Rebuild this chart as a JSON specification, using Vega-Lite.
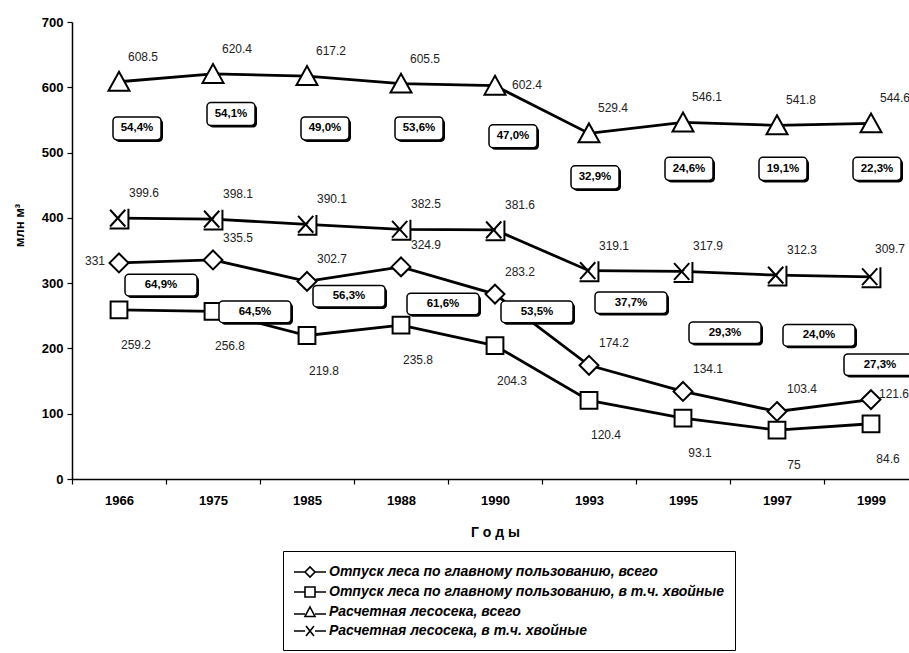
{
  "$schema": "https://vega.github.io/schema/vega-lite/v6.json",
  "width": 837,
  "height": 457,
  "autosize": {"type": "none"},
  "padding": {"left": 72, "top": 22, "right": 0, "bottom": 174},
  "background": "white",
  "config": {
    "font": "Liberation Sans",
    "view": {"stroke": null},
    "axis": {"grid": false, "domainColor": "black", "domainWidth": 1.5, "tickColor": "black", "tickWidth": 1.2, "labelColor": "black", "titleColor": "black", "labelFont": "Liberation Sans", "titleFont": "Liberation Sans"},
    "text": {"font": "Liberation Sans"}
  },
  "datasets": {
    "series": [
      {"year": 1966, "series": "Отпуск леса по главному пользованию, всего", "v": 331},
      {"year": 1975, "series": "Отпуск леса по главному пользованию, всего", "v": 335.5},
      {"year": 1985, "series": "Отпуск леса по главному пользованию, всего", "v": 302.7},
      {"year": 1988, "series": "Отпуск леса по главному пользованию, всего", "v": 324.9},
      {"year": 1990, "series": "Отпуск леса по главному пользованию, всего", "v": 283.2},
      {"year": 1993, "series": "Отпуск леса по главному пользованию, всего", "v": 174.2},
      {"year": 1995, "series": "Отпуск леса по главному пользованию, всего", "v": 134.1},
      {"year": 1997, "series": "Отпуск леса по главному пользованию, всего", "v": 103.4},
      {"year": 1999, "series": "Отпуск леса по главному пользованию, всего", "v": 121.6},
      {"year": 1966, "series": "Отпуск леса по главному пользованию, в т.ч. хвойные", "v": 259.2},
      {"year": 1975, "series": "Отпуск леса по главному пользованию, в т.ч. хвойные", "v": 256.8},
      {"year": 1985, "series": "Отпуск леса по главному пользованию, в т.ч. хвойные", "v": 219.8},
      {"year": 1988, "series": "Отпуск леса по главному пользованию, в т.ч. хвойные", "v": 235.8},
      {"year": 1990, "series": "Отпуск леса по главному пользованию, в т.ч. хвойные", "v": 204.3},
      {"year": 1993, "series": "Отпуск леса по главному пользованию, в т.ч. хвойные", "v": 120.4},
      {"year": 1995, "series": "Отпуск леса по главному пользованию, в т.ч. хвойные", "v": 93.1},
      {"year": 1997, "series": "Отпуск леса по главному пользованию, в т.ч. хвойные", "v": 75},
      {"year": 1999, "series": "Отпуск леса по главному пользованию, в т.ч. хвойные", "v": 84.6},
      {"year": 1966, "series": "Расчетная лесосека, всего", "v": 608.5},
      {"year": 1975, "series": "Расчетная лесосека, всего", "v": 620.4},
      {"year": 1985, "series": "Расчетная лесосека, всего", "v": 617.2},
      {"year": 1988, "series": "Расчетная лесосека, всего", "v": 605.5},
      {"year": 1990, "series": "Расчетная лесосека, всего", "v": 602.4},
      {"year": 1993, "series": "Расчетная лесосека, всего", "v": 529.4},
      {"year": 1995, "series": "Расчетная лесосека, всего", "v": 546.1},
      {"year": 1997, "series": "Расчетная лесосека, всего", "v": 541.8},
      {"year": 1999, "series": "Расчетная лесосека, всего", "v": 544.6},
      {"year": 1966, "series": "Расчетная лесосека, в т.ч. хвойные", "v": 399.6},
      {"year": 1975, "series": "Расчетная лесосека, в т.ч. хвойные", "v": 398.1},
      {"year": 1985, "series": "Расчетная лесосека, в т.ч. хвойные", "v": 390.1},
      {"year": 1988, "series": "Расчетная лесосека, в т.ч. хвойные", "v": 382.5},
      {"year": 1990, "series": "Расчетная лесосека, в т.ч. хвойные", "v": 381.6},
      {"year": 1993, "series": "Расчетная лесосека, в т.ч. хвойные", "v": 319.1},
      {"year": 1995, "series": "Расчетная лесосека, в т.ч. хвойные", "v": 317.9},
      {"year": 1997, "series": "Расчетная лесосека, в т.ч. хвойные", "v": 312.3},
      {"year": 1999, "series": "Расчетная лесосека, в т.ч. хвойные", "v": 309.7}
    ],
    "boxes": [
      {"year": 1966, "kind": "top", "label": "54,4%", "y": 537},
      {"year": 1975, "kind": "top", "label": "54,1%", "y": 559},
      {"year": 1985, "kind": "top", "label": "49,0%", "y": 537},
      {"year": 1988, "kind": "top", "label": "53,6%", "y": 537},
      {"year": 1990, "kind": "top", "label": "47,0%", "y": 525},
      {"year": 1993, "kind": "top", "label": "32,9%", "y": 462},
      {"year": 1995, "kind": "top", "label": "24,6%", "y": 475},
      {"year": 1997, "kind": "top", "label": "19,1%", "y": 475},
      {"year": 1999, "kind": "top", "label": "22,3%", "y": 475},
      {"year": 1966, "kind": "mid", "label": "64,9%", "y": 297},
      {"year": 1975, "kind": "mid", "label": "64,5%", "y": 256},
      {"year": 1985, "kind": "mid", "label": "56,3%", "y": 280},
      {"year": 1988, "kind": "mid", "label": "61,6%", "y": 268},
      {"year": 1990, "kind": "mid", "label": "53,5%", "y": 256},
      {"year": 1993, "kind": "mid", "label": "37,7%", "y": 270},
      {"year": 1995, "kind": "mid", "label": "29,3%", "y": 224},
      {"year": 1997, "kind": "mid", "label": "24,0%", "y": 220},
      {"year": 1999, "kind": "mid", "label": "27,3%", "y": 175}
    ]
  },
  "encoding": {
    "x": {
      "field": "year", "type": "ordinal",
      "scale": {"type": "band", "range": [0, 846], "paddingInner": 0, "paddingOuter": 0},
      "axis": {"title": "Г  о  д  ы", "labelAngle": 0, "labelFontWeight": "bold", "labelFontSize": 13, "labelPadding": 10, "tickBand": "extent", "tickSize": 5, "titleFontWeight": "bold", "titleFontSize": 14, "titlePadding": 18}
    }
  },
  "layer": [
    {
      "mark": {"type": "rule", "color": "black", "strokeWidth": 1.5},
      "encoding": {"y": {"datum": 700, "type": "quantitative", "scale": {"domain": [0, 700], "nice": false}}, "x": null}
    },
    {
      "data": {"name": "series"},
      "mark": {"type": "line", "color": "black", "strokeWidth": 2.8},
      "encoding": {
        "y": {"field": "v", "type": "quantitative", "scale": {"domain": [0, 700], "nice": false},
          "axis": {"title": "млн м³", "values": [0, 100, 200, 300, 400, 500, 600, 700], "labelFontWeight": "bold", "labelFontSize": 13, "labelPadding": 4, "tickSize": 5, "titleFontWeight": "bold", "titleFontSize": 13, "titleX": -46, "titleY": 203}},
        "detail": {"field": "series"}
      }
    },
    {
      "data": {"name": "series"},
      "mark": {"type": "point", "filled": true, "fill": "white", "stroke": "black", "strokeWidth": 2, "size": 440, "opacity": 1},
      "encoding": {
        "y": {"field": "v", "type": "quantitative"},
        "shape": {"field": "series", "type": "nominal", "legend": null,
          "scale": {"domain": ["Отпуск леса по главному пользованию, всего", "Отпуск леса по главному пользованию, в т.ч. хвойные", "Расчетная лесосека, всего", "Расчетная лесосека, в т.ч. хвойные"],
            "range": ["M0,-0.9L0.9,0L0,0.9L-0.9,0Z", "M-0.8,-0.8H0.8V0.8H-0.8Z", "M0,-0.95L1,0.85H-1Z", "M-0.85,-0.8L0.6,0.8M0.6,-0.8L-0.85,0.8M0.9,-0.9V1H-0.9"]}}
      }
    },
    {
      "data": {"name": "series"},
      "mark": {"type": "point", "filled": false, "color": "black", "strokeWidth": 1.5, "clip": true},
      "encoding": {
        "y": {"datum": -1000, "type": "quantitative"},
        "shape": {"field": "series", "type": "nominal",
          "scale": {"domain": ["Отпуск леса по главному пользованию, всего", "Отпуск леса по главному пользованию, в т.ч. хвойные", "Расчетная лесосека, всего", "Расчетная лесосека, в т.ч. хвойные"],
            "range": ["M-1,0H0.1M1.1,0H2.2M0.1,0L0.6,-0.5L1.1,0L0.6,0.5Z", "M-1,0H0.1M1.1,0H2.2M0.1,-0.5H1.1V0.5H0.1Z", "M-1,0.2H0.1M1.1,0.2H2.2M0.6,-0.5L1.1,0.45H0.1Z", "M-1,0H0.1M1.1,0H2.2M0.2,-0.5L1,0.5M1,-0.5L0.2,0.5"]},
          "legend": {"title": null, "orient": "none", "legendX": 211, "legendY": 529, "direction": "vertical",
            "strokeColor": "black", "fillColor": "white", "padding": 10, "rowPadding": 0,
            "labelFont": "Liberation Sans", "labelFontSize": 14, "labelFontStyle": "italic", "labelFontWeight": "bold", "labelColor": "black", "labelLimit": 0, "labelOffset": 14,
            "symbolSize": 400, "symbolStrokeWidth": 1.6, "symbolFillColor": "white", "symbolStrokeColor": "black", "symbolOpacity": 1}}
      }
    },
    {
      "data": {"name": "series"},
      "transform": [{"filter": "datum.series === 'Расчетная лесосека, всего' && datum.year !== 1990"}],
      "mark": {"type": "text", "dx": 24, "dy": -25, "fontSize": 12, "color": "#222"},
      "encoding": {"y": {"field": "v", "type": "quantitative"}, "text": {"field": "v", "type": "nominal"}}
    },
    {
      "data": {"name": "series"},
      "transform": [{"filter": "datum.series === 'Расчетная лесосека, всего' && datum.year === 1990"}],
      "mark": {"type": "text", "dx": 32, "dy": -1, "fontSize": 12, "color": "#222"},
      "encoding": {"y": {"field": "v", "type": "quantitative"}, "text": {"field": "v", "type": "nominal"}}
    },
    {
      "data": {"name": "series"},
      "transform": [{"filter": "datum.series === 'Расчетная лесосека, в т.ч. хвойные' && datum.year !== 1999"}],
      "mark": {"type": "text", "dx": 25, "dy": -25, "fontSize": 12, "color": "#222"},
      "encoding": {"y": {"field": "v", "type": "quantitative"}, "text": {"field": "v", "type": "nominal"}}
    },
    {
      "data": {"name": "series"},
      "transform": [{"filter": "datum.series === 'Расчетная лесосека, в т.ч. хвойные' && datum.year === 1999"}],
      "mark": {"type": "text", "dx": 19, "dy": -28, "fontSize": 12, "color": "#222"},
      "encoding": {"y": {"field": "v", "type": "quantitative"}, "text": {"field": "v", "type": "nominal"}}
    },
    {
      "data": {"name": "series"},
      "transform": [{"filter": "datum.series === 'Отпуск леса по главному пользованию, всего' && datum.year !== 1966 && datum.year !== 1999"}],
      "mark": {"type": "text", "dx": 25, "dy": -22, "fontSize": 12, "color": "#222"},
      "encoding": {"y": {"field": "v", "type": "quantitative"}, "text": {"field": "v", "type": "nominal"}}
    },
    {
      "data": {"name": "series"},
      "transform": [{"filter": "datum.series === 'Отпуск леса по главному пользованию, всего' && datum.year === 1966"}],
      "mark": {"type": "text", "dx": -24, "dy": -2, "fontSize": 12, "color": "#222"},
      "encoding": {"y": {"field": "v", "type": "quantitative"}, "text": {"field": "v", "type": "nominal"}}
    },
    {
      "data": {"name": "series"},
      "transform": [{"filter": "datum.series === 'Отпуск леса по главному пользованию, всего' && datum.year === 1999"}],
      "mark": {"type": "text", "dx": 23, "dy": -6, "fontSize": 12, "color": "#222"},
      "encoding": {"y": {"field": "v", "type": "quantitative"}, "text": {"field": "v", "type": "nominal"}}
    },
    {
      "data": {"name": "series"},
      "transform": [{"filter": "datum.series === 'Отпуск леса по главному пользованию, в т.ч. хвойные'"}],
      "mark": {"type": "text", "dx": 17, "dy": 35, "fontSize": 12, "color": "#222"},
      "encoding": {"y": {"field": "v", "type": "quantitative"}, "text": {"field": "v", "type": "nominal"}}
    },
    {
      "data": {"name": "boxes"},
      "transform": [{"filter": "datum.kind === 'top' && datum.year <= 1990"}],
      "mark": {"type": "point", "filled": true, "fill": "black", "strokeWidth": 0, "size": 2304, "xOffset": 20, "yOffset": 2, "opacity": 1,
        "shape": "M-0.83,-0.48H0.83A0.17,0.17 0 0 1 1,-0.31V0.31A0.17,0.17 0 0 1 0.83,0.48H-0.83A0.17,0.17 0 0 1 -1,0.31V-0.31A0.17,0.17 0 0 1 -0.83,-0.48Z"},
      "encoding": {"y": {"field": "y", "type": "quantitative"}}
    },
    {
      "data": {"name": "boxes"},
      "transform": [{"filter": "datum.kind === 'top' && datum.year <= 1990"}],
      "mark": {"type": "point", "filled": true, "fill": "white", "stroke": "black", "strokeWidth": 1.5, "size": 2304, "xOffset": 18, "opacity": 1,
        "shape": "M-0.83,-0.48H0.83A0.17,0.17 0 0 1 1,-0.31V0.31A0.17,0.17 0 0 1 0.83,0.48H-0.83A0.17,0.17 0 0 1 -1,0.31V-0.31A0.17,0.17 0 0 1 -0.83,-0.48Z"},
      "encoding": {"y": {"field": "y", "type": "quantitative"}}
    },
    {
      "data": {"name": "boxes"},
      "transform": [{"filter": "datum.kind === 'top' && datum.year <= 1990"}],
      "mark": {"type": "text", "xOffset": 18, "fontSize": 11.5, "fontWeight": "bold", "color": "black", "align": "center", "baseline": "middle"},
      "encoding": {"y": {"field": "y", "type": "quantitative"}, "text": {"field": "label"}}
    },
    {
      "data": {"name": "boxes"},
      "transform": [{"filter": "datum.kind === 'top' && datum.year > 1990"}],
      "mark": {"type": "point", "filled": true, "fill": "black", "strokeWidth": 0, "size": 2304, "xOffset": 8, "yOffset": 2, "opacity": 1,
        "shape": "M-0.83,-0.48H0.83A0.17,0.17 0 0 1 1,-0.31V0.31A0.17,0.17 0 0 1 0.83,0.48H-0.83A0.17,0.17 0 0 1 -1,0.31V-0.31A0.17,0.17 0 0 1 -0.83,-0.48Z"},
      "encoding": {"y": {"field": "y", "type": "quantitative"}}
    },
    {
      "data": {"name": "boxes"},
      "transform": [{"filter": "datum.kind === 'top' && datum.year > 1990"}],
      "mark": {"type": "point", "filled": true, "fill": "white", "stroke": "black", "strokeWidth": 1.5, "size": 2304, "xOffset": 6, "opacity": 1,
        "shape": "M-0.83,-0.48H0.83A0.17,0.17 0 0 1 1,-0.31V0.31A0.17,0.17 0 0 1 0.83,0.48H-0.83A0.17,0.17 0 0 1 -1,0.31V-0.31A0.17,0.17 0 0 1 -0.83,-0.48Z"},
      "encoding": {"y": {"field": "y", "type": "quantitative"}}
    },
    {
      "data": {"name": "boxes"},
      "transform": [{"filter": "datum.kind === 'top' && datum.year > 1990"}],
      "mark": {"type": "text", "xOffset": 6, "fontSize": 11.5, "fontWeight": "bold", "color": "black", "align": "center", "baseline": "middle"},
      "encoding": {"y": {"field": "y", "type": "quantitative"}, "text": {"field": "label"}}
    },
    {
      "data": {"name": "boxes"},
      "transform": [{"filter": "datum.kind === 'mid' && datum.year < 1999"}],
      "mark": {"type": "point", "filled": true, "fill": "black", "strokeWidth": 0, "size": 5184, "xOffset": 44, "yOffset": 2, "opacity": 1,
        "shape": "M-0.89,-0.3H0.89A0.11,0.11 0 0 1 1,-0.19V0.19A0.11,0.11 0 0 1 0.89,0.3H-0.89A0.11,0.11 0 0 1 -1,0.19V-0.19A0.11,0.11 0 0 1 -0.89,-0.3Z"},
      "encoding": {"y": {"field": "y", "type": "quantitative"}}
    },
    {
      "data": {"name": "boxes"},
      "transform": [{"filter": "datum.kind === 'mid' && datum.year < 1999"}],
      "mark": {"type": "point", "filled": true, "fill": "white", "stroke": "black", "strokeWidth": 1.5, "size": 5184, "xOffset": 42, "opacity": 1,
        "shape": "M-0.89,-0.3H0.89A0.11,0.11 0 0 1 1,-0.19V0.19A0.11,0.11 0 0 1 0.89,0.3H-0.89A0.11,0.11 0 0 1 -1,0.19V-0.19A0.11,0.11 0 0 1 -0.89,-0.3Z"},
      "encoding": {"y": {"field": "y", "type": "quantitative"}}
    },
    {
      "data": {"name": "boxes"},
      "transform": [{"filter": "datum.kind === 'mid' && datum.year < 1999"}],
      "mark": {"type": "text", "xOffset": 42, "fontSize": 11.5, "fontWeight": "bold", "color": "black", "align": "center", "baseline": "middle"},
      "encoding": {"y": {"field": "y", "type": "quantitative"}, "text": {"field": "label"}}
    },
    {
      "data": {"name": "boxes"},
      "transform": [{"filter": "datum.kind === 'mid' && datum.year === 1999"}],
      "mark": {"type": "point", "filled": true, "fill": "black", "strokeWidth": 0, "size": 5184, "xOffset": 11, "yOffset": 2, "opacity": 1,
        "shape": "M-0.89,-0.3H0.89A0.11,0.11 0 0 1 1,-0.19V0.19A0.11,0.11 0 0 1 0.89,0.3H-0.89A0.11,0.11 0 0 1 -1,0.19V-0.19A0.11,0.11 0 0 1 -0.89,-0.3Z"},
      "encoding": {"y": {"field": "y", "type": "quantitative"}}
    },
    {
      "data": {"name": "boxes"},
      "transform": [{"filter": "datum.kind === 'mid' && datum.year === 1999"}],
      "mark": {"type": "point", "filled": true, "fill": "white", "stroke": "black", "strokeWidth": 1.5, "size": 5184, "xOffset": 9, "opacity": 1,
        "shape": "M-0.89,-0.3H0.89A0.11,0.11 0 0 1 1,-0.19V0.19A0.11,0.11 0 0 1 0.89,0.3H-0.89A0.11,0.11 0 0 1 -1,0.19V-0.19A0.11,0.11 0 0 1 -0.89,-0.3Z"},
      "encoding": {"y": {"field": "y", "type": "quantitative"}}
    },
    {
      "data": {"name": "boxes"},
      "transform": [{"filter": "datum.kind === 'mid' && datum.year === 1999"}],
      "mark": {"type": "text", "xOffset": 9, "fontSize": 11.5, "fontWeight": "bold", "color": "black", "align": "center", "baseline": "middle"},
      "encoding": {"y": {"field": "y", "type": "quantitative"}, "text": {"field": "label"}}
    }
  ],
  "resolve": {"scale": {"shape": "independent"}}
}
